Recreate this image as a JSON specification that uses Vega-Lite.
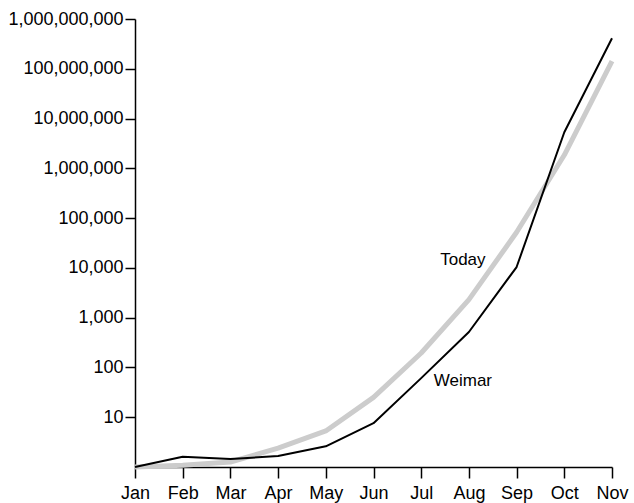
{
  "$schema": "https://vega.github.io/schema/vega-lite/v6.json",
  "autosize": "none",
  "padding": {"left": 135, "top": 19, "right": 22, "bottom": 36},
  "width": 477,
  "height": 448,
  "background": "white",
  "config": {
    "view": {"stroke": null},
    "font": "Liberation Sans",
    "axis": {"labelFont": "Liberation Sans", "labelFontSize": 18, "labelColor": "black", "domainColor": "black", "tickColor": "black", "grid": false, "title": null, "domainWidth": 1.5, "tickWidth": 1.5}
  },
  "datasets": {
    "series": [
      {"month": "Jan", "series": "Today", "value": 1},
      {"month": "Feb", "series": "Today", "value": 1.08},
      {"month": "Mar", "series": "Today", "value": 1.26},
      {"month": "Apr", "series": "Today", "value": 2.4},
      {"month": "May", "series": "Today", "value": 5.3},
      {"month": "Jun", "series": "Today", "value": 25},
      {"month": "Jul", "series": "Today", "value": 195},
      {"month": "Aug", "series": "Today", "value": 2300},
      {"month": "Sep", "series": "Today", "value": 52000},
      {"month": "Oct", "series": "Today", "value": 1850000},
      {"month": "Nov", "series": "Today", "value": 142000000},
      {"month": "Jan", "series": "Weimar", "value": 1},
      {"month": "Feb", "series": "Weimar", "value": 1.6},
      {"month": "Mar", "series": "Weimar", "value": 1.45},
      {"month": "Apr", "series": "Weimar", "value": 1.66},
      {"month": "May", "series": "Weimar", "value": 2.6},
      {"month": "Jun", "series": "Weimar", "value": 7.6},
      {"month": "Jul", "series": "Weimar", "value": 61},
      {"month": "Aug", "series": "Weimar", "value": 515},
      {"month": "Sep", "series": "Weimar", "value": 10400},
      {"month": "Oct", "series": "Weimar", "value": 5300000},
      {"month": "Nov", "series": "Weimar", "value": 410000000}
    ],
    "labels": [
      {"month": "Aug", "value": 14400, "label": "Today"},
      {"month": "Aug", "value": 53, "label": "Weimar"}
    ]
  },
  "encoding": {
    "x": {
      "field": "month", "type": "ordinal",
      "sort": ["Jan","Feb","Mar","Apr","May","Jun","Jul","Aug","Sep","Oct","Nov"],
      "scale": {"type": "point", "padding": 0},
      "axis": {"labelAngle": 0, "tickSize": 11, "labelPadding": 6}
    },
    "y": {
      "field": "value", "type": "quantitative",
      "scale": {"type": "log", "domain": [1, 1000000000], "nice": false},
      "axis": {"values": [10, 100, 1000, 10000, 100000, 1000000, 10000000, 100000000, 1000000000], "format": ",", "tickSize": 10, "labelPadding": 2}
    }
  },
  "layer": [
    {
      "data": {"name": "series"},
      "transform": [{"filter": "datum.series === 'Today'"}],
      "mark": {"type": "line", "color": "#cccccc", "strokeWidth": 5, "interpolate": "linear", "strokeJoin": "round"}
    },
    {
      "data": {"name": "series"},
      "transform": [{"filter": "datum.series === 'Weimar'"}],
      "mark": {"type": "line", "color": "black", "strokeWidth": 2, "interpolate": "linear", "strokeJoin": "round"}
    },
    {
      "data": {"name": "labels"},
      "mark": {"type": "text", "fontSize": 17, "color": "black", "dx": -6, "font": "Liberation Sans"},
      "encoding": {"text": {"field": "label"}}
    }
  ]
}
